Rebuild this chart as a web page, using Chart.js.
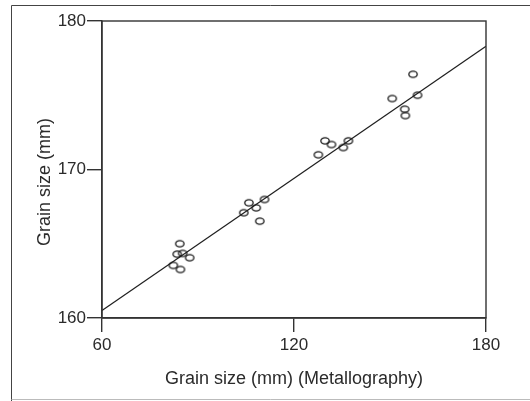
<!DOCTYPE html>
<html>
<head>
<meta charset="utf-8">
<script src="https://cdn.jsdelivr.net/npm/chart.js@4/dist/chart.umd.min.js"></script>
<style>
  html, body { margin: 0; padding: 0; background: #fff; }
  #wrap { width: 530px; height: 401px; position: relative; }
</style>
</head>
<body>
<div id="wrap"><canvas id="grainChart" width="530" height="401"></canvas></div>
<script>
// grain size by metallography (x) vs measured grain size (y)
const metalX = [84.3, 83.5, 85.2, 87.4, 82.3, 84.5, 104.3, 105.9, 108.2, 110.8, 109.3, 127.6, 129.7, 131.7, 135.4, 137.0, 150.7, 154.6, 154.8, 157.2, 158.6];
const grainY = [165.0, 164.3, 164.35, 164.06, 163.54, 163.27, 167.09, 167.76, 167.42, 167.98, 166.52, 170.99, 171.93, 171.68, 171.48, 171.93, 174.78, 174.06, 173.63, 176.41, 175.0];
// fitted line end points
const fitX = [60, 180];
const fitY = [160.5, 178.3];
const xTicks = [60, 120, 180];
const yTicks = [160, 170, 180];

const ink = "#2b2b2b";
const font = "'Liberation Sans', Arial, sans-serif";

// open ellipse marker
function ellipseMarker() {
  const c = document.createElement("canvas");
  c.width = 12; c.height = 10;
  const g = c.getContext("2d");
  g.strokeStyle = "#1a1a1a";
  g.lineWidth = 1.3;
  g.beginPath();
  g.ellipse(6, 5, 4.2, 3.1, 0, 0, Math.PI * 2);
  g.stroke();
  return c;
}

const framePlugin = {
  id: "frame",
  beforeDraw(chart) {
    const ctx = chart.ctx;
    ctx.save();
    ctx.strokeStyle = "#444";
    ctx.lineWidth = 1;
    ctx.beginPath();
    ctx.moveTo(11.5, 401);
    ctx.lineTo(11.5, 5.5);
    ctx.lineTo(530, 5.5);
    ctx.stroke();
    ctx.strokeStyle = "#bbb";
    ctx.beginPath();
    ctx.moveTo(11.5, 399.5);
    ctx.lineTo(530, 399.5);
    ctx.stroke();
    ctx.restore();
  },
  afterDatasetsDraw(chart) {
    const { ctx, chartArea: a } = chart;
    ctx.save();
    ctx.strokeStyle = "#333";
    ctx.lineWidth = 1.4;
    ctx.strokeRect(a.left, a.top, a.right - a.left, a.bottom - a.top);
    // y axis title
    ctx.fillStyle = ink;
    ctx.font = "18px " + font;
    ctx.textAlign = "center";
    ctx.textBaseline = "middle";
    ctx.translate(45, 182);
    ctx.rotate(-Math.PI / 2);
    ctx.fillText("Grain size (mm)", 0, 0);
    ctx.restore();
  },
};

new Chart(document.getElementById("grainChart"), {
  type: "scatter",
  data: {
    datasets: [
      {
        data: metalX.map((x, i) => ({ x, y: grainY[i] })),
        pointStyle: ellipseMarker(),
        pointRadius: 5,
        pointHoverRadius: 5,
      },
      {
        data: fitX.map((x, i) => ({ x, y: fitY[i] })),
        showLine: true,
        borderColor: "#1f1f1f",
        borderWidth: 1.2,
        pointRadius: 0,
      },
    ],
  },
  options: {
    responsive: false,
    animation: false,
    events: [],
    layout: { padding: { left: 0, right: 44, top: 21, bottom: 0 } },
    plugins: { legend: { display: false }, tooltip: { enabled: false } },
    scales: {
      x: {
        type: "linear",
        min: 60,
        max: 180,
        afterBuildTicks: (s) => { s.ticks = xTicks.map((v) => ({ value: v })); },
        afterFit: (s) => { s.height = 83; },
        grid: { drawOnChartArea: false, tickLength: 14, color: "#333", lineWidth: 1.4 },
        border: { display: true, color: "#333", width: 1.4 },
        ticks: { color: ink, font: { size: 17, family: font }, padding: 3 },
        title: { display: true, text: "Grain size (mm) (Metallography)", color: ink, font: { size: 18, family: font }, padding: { top: 0, bottom: 11 } },
      },
      y: {
        min: 160,
        max: 180,
        afterBuildTicks: (s) => { s.ticks = yTicks.map((v) => ({ value: v })); },
        afterFit: (s) => { s.width = 102; },
        grid: { drawOnChartArea: false, tickLength: 15, color: "#333", lineWidth: 1.4 },
        border: { display: true, color: "#333", width: 1.4 },
        ticks: { color: ink, font: { size: 17, family: font }, padding: 1 },
      },
    },
  },
  plugins: [framePlugin],
});
</script>
</body>
</html>
